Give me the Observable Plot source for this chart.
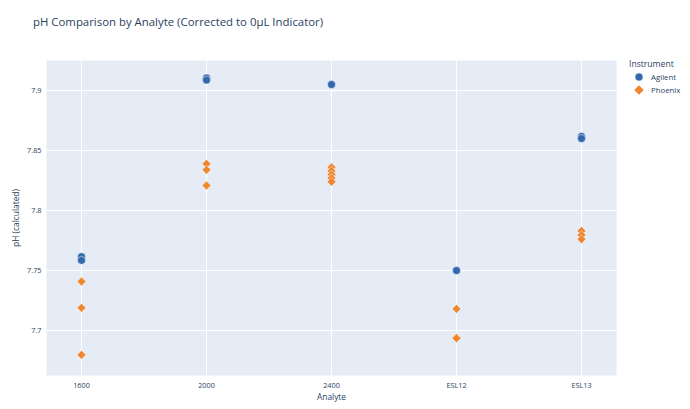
<!DOCTYPE html>
<html>
<head>
<meta charset="utf-8">
<script src="https://cdn.jsdelivr.net/npm/d3@7"></script>
<script src="https://cdn.jsdelivr.net/npm/@observablehq/plot@0.6"></script>
<style>
  html, body { margin: 0; padding: 0; background: #fff; }
  #wrap { position: relative; width: 690px; height: 409px; font-family: "Open Sans", sans-serif; color: #2a3f5f; }
  #title { position: absolute; left: 33px; top: 14px; font-size: 11.4px; white-space: nowrap; }
  #legend { position: absolute; left: 629px; top: 58px; font-size: 7.8px; }
  #legend .lt { font-size: 8.6px; margin-bottom: 1px; }
  #legend .item { display: flex; align-items: center; height: 12.5px; }
  #legend svg { margin-left: 4px; margin-right: 6px; }
</style>
</head>
<body>
<div id="wrap">
  <div id="chart"></div>
  <div id="title">pH Comparison by Analyte (Corrected to 0μL Indicator)</div>
  <div id="legend"></div>
</div>
<script>
const analytes = ["1600", "2000", "2400", "ESL12", "ESL13"];
const instruments = ["Agilent", "Phoenix"];
const colors = ["#3468ad", "#ef8630"];
const agilentValues = [[7.7615, 7.7585], [7.9104, 7.9087], [7.905], [7.750], [7.8617, 7.8600]];
const phoenixValues = [[7.7408, 7.7189, 7.6797], [7.8389, 7.8339, 7.8208], [7.836, 7.833, 7.830, 7.827, 7.824], [7.718, 7.694, 7.6935], [7.783, 7.7795, 7.776]];
const yTicks = [7.7, 7.75, 7.8, 7.85, 7.9];

const rows = [];
analytes.forEach((a, i) => {
  agilentValues[i].forEach(v => rows.push({analyte: a, instrument: "Agilent", ph: v}));
  phoenixValues[i].forEach(v => rows.push({analyte: a, instrument: "Phoenix", ph: v}));
});

const chart = Plot.plot({
  width: 690,
  height: 409,
  marginTop: 60,
  marginBottom: 34,
  marginLeft: 46,
  marginRight: 74,
  style: {fontFamily: "'Open Sans', sans-serif", color: "#2a3f5f", background: "transparent"},
  x: {type: "point", domain: analytes, padding: 0.262},
  y: {domain: [7.6625, 7.925]},
  color: {domain: instruments, range: colors},
  symbol: {domain: instruments, range: ["circle", "diamond2"]},
  marks: [
    Plot.frame({fill: "#E5ECF6", stroke: null}),
    Plot.gridX(analytes, {stroke: "#fff", strokeOpacity: 1, strokeWidth: 1}),
    Plot.gridY(yTicks, {stroke: "#fff", strokeOpacity: 1, strokeWidth: 1}),
    Plot.axisY(yTicks, {tickSize: 0, tickPadding: 5, fontSize: 7.3, tickFormat: d => String(+d.toFixed(2)), label: "pH (calculated)", labelAnchor: "center", labelArrow: "none", labelOffset: 33}),
    Plot.axisX(analytes, {tickSize: 0, tickPadding: 7, fontSize: 7.3, label: "Analyte", labelAnchor: "center", labelArrow: "none", labelOffset: 24}),
    Plot.dot(rows, {x: "analyte", y: "ph", fill: "instrument", symbol: "instrument", r: 4, stroke: "#fff", strokeWidth: 0.5})
  ]
});
chart.querySelectorAll("g[aria-label='y-axis label'] text, g[aria-label='x-axis label'] text").forEach(t => t.setAttribute("font-size", "8.4"));
document.getElementById("chart").appendChild(chart);

const legend = document.getElementById("legend");
legend.innerHTML = `<div class="lt">Instrument</div>` + instruments.map((name, i) => {
  const sym = i === 0
    ? `<circle cx="6" cy="6" r="4" fill="${colors[i]}" stroke="#fff" stroke-width="0.5"/>`
    : `<path d="M6,1 L11,6 L6,11 L1,6 Z" fill="${colors[i]}" stroke="#fff" stroke-width="0.5"/>`;
  return `<div class="item"><svg width="12" height="12">${sym}</svg><span>${name}</span></div>`;
}).join("");
</script>
</body>
</html>
